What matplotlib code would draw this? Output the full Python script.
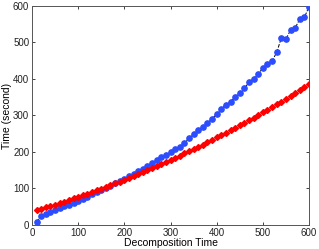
import matplotlib
matplotlib.use("Agg")
import matplotlib.pyplot as plt

plt.rcParams["font.family"] = ["Liberation Sans", "DejaVu Sans"]

decomp_time = list(range(10, 610, 10))

time_blue = [9, 24, 30, 35, 40, 46, 51, 56, 61, 66,
             72, 78, 84, 90, 96, 102, 108, 114, 120, 127,
             134, 141, 148, 154, 162, 170, 178, 185, 192, 199,
             207, 215, 224, 237, 250, 259, 269, 279, 291, 304,
             318, 330, 337, 351, 362, 374, 391, 401, 414, 430,
             442, 449, 473, 512, 509, 534, 540, 564, 569, 598]

time_red = [41, 45, 48, 52, 56, 60, 64, 68, 73, 77,
            81, 86, 90, 95, 99, 104, 109, 114, 119, 124,
            129, 134, 139, 145, 150, 155, 161, 167, 172, 178,
            184, 190, 196, 202, 208, 214, 220, 227, 233, 240,
            246, 253, 260, 266, 273, 280, 287, 294, 301, 309,
            316, 323, 331, 338, 346, 354, 361, 369, 377, 385]

ticks = [0, 100, 200, 300, 400, 500, 600]

fig = plt.figure(figsize=(3.19, 2.49), dpi=100)
ax = fig.add_axes([0.1003, 0.0964, 0.8684, 0.8796])

ax.plot(decomp_time, time_blue, ls="--", color="black", lw=0.7, zorder=2)
ax.plot(decomp_time, time_blue, ls="none", marker="o", ms=3.8,
        color="#2b4cff", mec="#2b4cff", zorder=3)
ax.plot(decomp_time, time_red, ls="none", marker="D", ms=3.0,
        color="#ff0000", mec="#ff0000", zorder=3)

ax.set_xlim(0, 600)
ax.set_ylim(0, 600)
ax.set_xticks(ticks)
ax.set_yticks(ticks)
ax.tick_params(direction="in", top=True, right=True, length=2.5,
               width=0.6, labelsize=7, pad=2, colors="#222222")
for s in ax.spines.values():
    s.set_linewidth(0.7)
    s.set_color("#555555")
ax.set_xlabel("Decomposition Time", fontsize=7.5, labelpad=0)
ax.set_ylabel("Time (second)", fontsize=7.5, labelpad=1)

fig.savefig("out.png", dpi=100)
